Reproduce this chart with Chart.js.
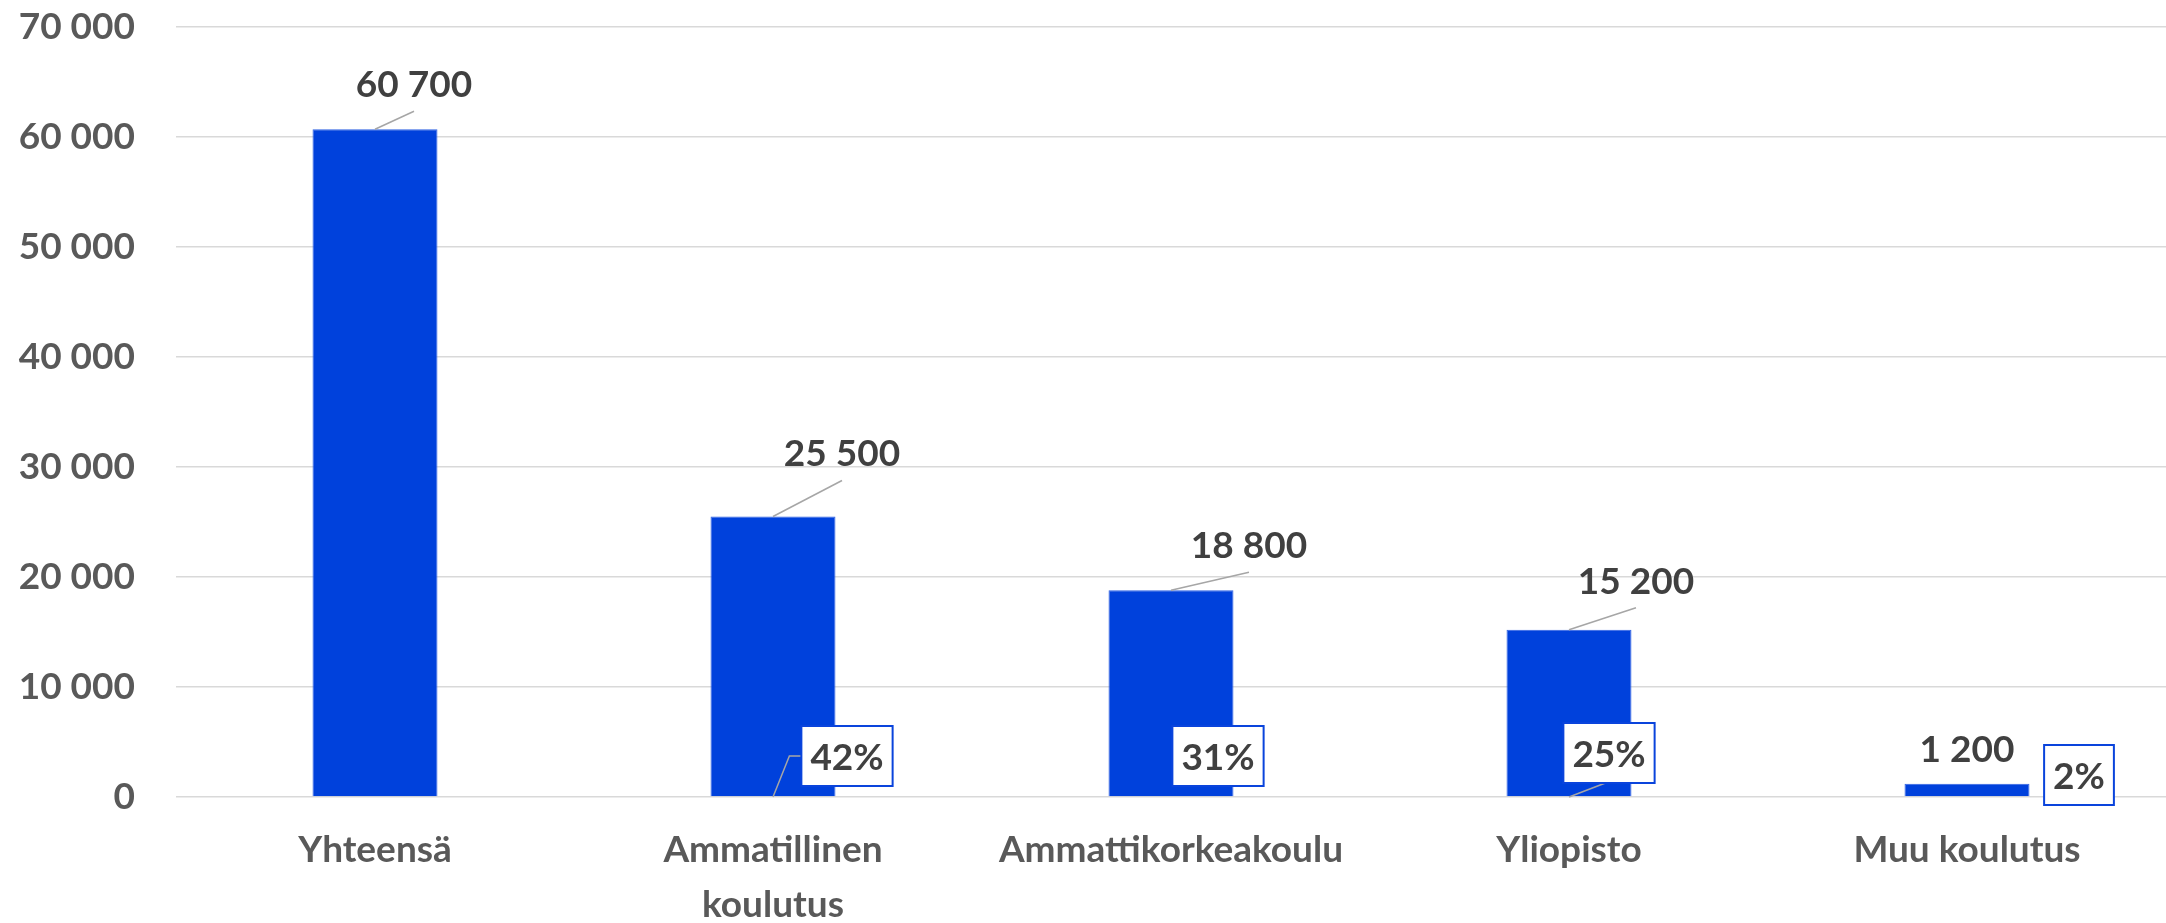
<!DOCTYPE html>
<html><head><meta charset="utf-8">
<script src="https://cdn.jsdelivr.net/npm/chart.js@4.4.0/dist/chart.umd.min.js"></script>
<style>html,body{margin:0;padding:0;background:#fff;} #wrap{width:2166px;height:923px;position:relative;}</style>
</head><body><div id="wrap"><canvas id="c" width="2166" height="923"></canvas></div>
<script>
// ---- data ----
const categories = ['Yhteensä', ['Ammatillinen', 'koulutus'], 'Ammattikorkeakoulu', 'Yliopisto', 'Muu koulutus'];
const values = [60700, 25500, 18800, 15200, 1200];
const shares = [null, 42, 31, 25, 2];
const yTicks = [0, 10000, 20000, 30000, 40000, 50000, 60000, 70000];

// ---- label layout (pixel offsets, not data) ----
const valueLabelOffsets = [[39, -46], [69, -64], [78, -46], [67, -50], [0, -36]];
const valueLeaders = [true, true, true, true, false];
const shareBoxOffsets = [null, [74, -41], [47, -41], [40, -44], [112, -22]];
const shareLeaders = [null, 'elbow', null, 'bottom', null];

const FONT = 'Lato, "Open Sans", sans-serif';
const fmt = v => String(v).replace(/\B(?=(\d{3})+(?!\d))/g, ' ');

const labelPlugin = {
  id: 'customLabels',
  afterDatasetsDraw(chart) {
    const ctx = chart.ctx;
    const meta = chart.getDatasetMeta(0);
    const y0 = chart.scales.y.getPixelForValue(0);
    ctx.save();
    ctx.font = 'bold 37px ' + FONT;
    ctx.textAlign = 'center';
    ctx.textBaseline = 'middle';
    meta.data.forEach((bar, i) => {
      const [dx, dy] = valueLabelOffsets[i];
      const lx = bar.x + dx, ly = bar.y + dy;
      if (valueLeaders[i]) {
        ctx.strokeStyle = '#a6a6a6'; ctx.lineWidth = 1.5;
        ctx.beginPath(); ctx.moveTo(bar.x, bar.y); ctx.lineTo(lx, ly + 28); ctx.stroke();
      }
      ctx.fillStyle = '#404040';
      ctx.fillText(fmt(values[i]), lx, ly + 2);

      if (shares[i] != null) {
        const txt = shares[i] + '%';
        const [bx, by] = shareBoxOffsets[i];
        const cx = bar.x + bx, cy = y0 + by;
        const w = ctx.measureText(txt).width + 18, h = 60;
        const left = cx - w / 2, top = cy - h / 2;
        ctx.strokeStyle = '#a6a6a6'; ctx.lineWidth = 1.5;
        if (shareLeaders[i] === 'elbow') {
          ctx.beginPath(); ctx.moveTo(bar.x, y0); ctx.lineTo(left - 12, cy); ctx.lineTo(left, cy); ctx.stroke();
        } else if (shareLeaders[i] === 'bottom') {
          ctx.beginPath(); ctx.moveTo(bar.x, y0); ctx.lineTo(left + 42, top + h); ctx.stroke();
        }
        ctx.fillStyle = '#ffffff';
        ctx.fillRect(left, top, w, h);
        ctx.strokeStyle = '#0a44dc'; ctx.lineWidth = 2;
        ctx.strokeRect(left, top, w, h);
        ctx.fillStyle = '#404040';
        ctx.fillText(txt, cx, cy + 2);
      }
    });
    ctx.restore();
  }
};

new Chart(document.getElementById('c'), {
  type: 'bar',
  data: {
    labels: categories,
    datasets: [{
      data: values,
      backgroundColor: '#0041dc',
      borderColor: '#2f62e3',
      borderWidth: 1,
      categoryPercentage: 0.314,
      barPercentage: 1
    }]
  },
  options: {
    responsive: false,
    animation: false,
    layout: { padding: { top: 0, right: 0, left: 0, bottom: 0 } },
    plugins: { legend: { display: false }, tooltip: { enabled: false } },
    scales: {
      x: {
        grid: { display: false, drawTicks: false },
        border: { display: false },
        ticks: {
          color: '#595959', padding: 25, maxRotation: 0, autoSkip: false,
          font: { family: FONT, size: 37, weight: 'bold', lineHeight: 1.5 }
        },
        afterFit: s => { s.height = 126; }
      },
      y: {
        min: 0, max: 70000,
        grid: { color: '#d9d9d9', lineWidth: 1.5, drawTicks: false },
        border: { display: false },
        afterBuildTicks: s => { s.ticks = yTicks.map(v => ({ value: v })); },
        ticks: {
          color: '#595959', padding: 41,
          font: { family: FONT, size: 37, weight: 'bold' },
          callback: v => fmt(v)
        },
        afterFit: s => { s.width = 176; s.paddingTop = 27; }
      }
    }
  },
  plugins: [labelPlugin]
});
</script>
</body></html>
